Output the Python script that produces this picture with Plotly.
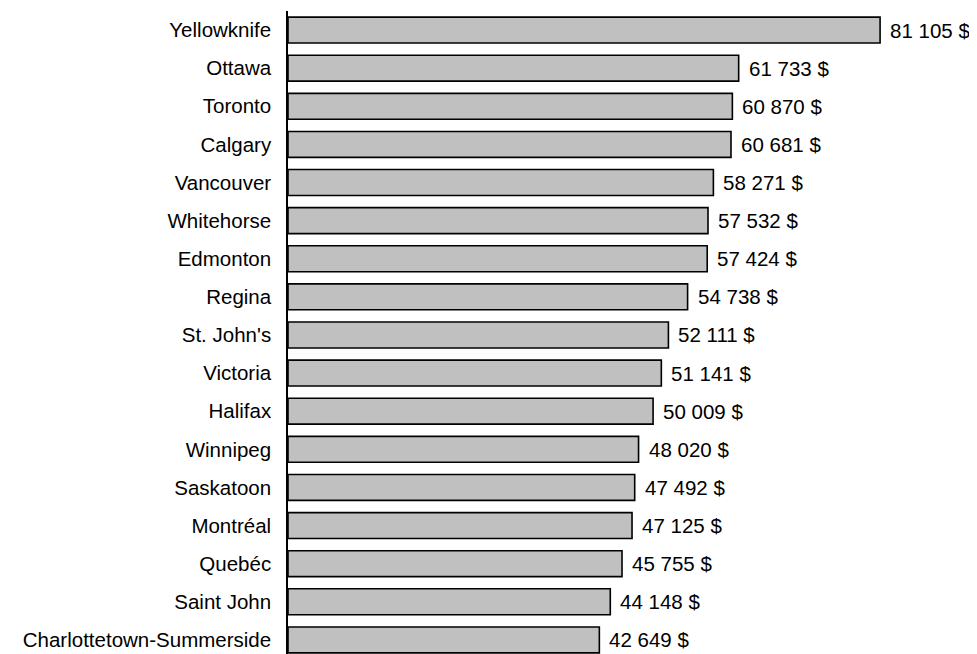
import plotly.graph_objects as go

cities = ["Yellowknife", "Ottawa", "Toronto", "Calgary", "Vancouver", "Whitehorse",
          "Edmonton", "Regina", "St. John's", "Victoria", "Halifax", "Winnipeg",
          "Saskatoon", "Montréal", "Quebéc", "Saint John", "Charlottetown-Summerside"]
values = [81105, 61733, 60870, 60681, 58271, 57532, 57424, 54738, 52111, 51141,
          50009, 48020, 47492, 47125, 45755, 44148, 42649]
labels = [f"{v:,}".replace(",", " ") + " $" for v in values]

FONT = "Liberation Sans, Arial, sans-serif"
FS = 20.5

fig = go.Figure(go.Bar(
    x=values, y=cities, orientation="h",
    marker=dict(color="#C0C0C0", line=dict(color="black", width=1.6)),
    hoverinfo="skip",
))

for v, c, t in zip(values, cities, labels):
    fig.add_annotation(x=v, y=c, text=t, showarrow=False, xanchor="left",
                       xshift=8, font=dict(family=FONT, size=FS, color="black"))

fig.update_layout(
    width=969, height=646,
    margin=dict(l=280, r=0, t=3, b=0, autoexpand=False),
    paper_bgcolor="white", plot_bgcolor="white",
    bargap=0.32,
    showlegend=False,
    font=dict(family=FONT, size=FS, color="black"),
    xaxis=dict(range=[0, 94380], visible=False, fixedrange=True),
    yaxis=dict(type="category", categoryorder="array", categoryarray=cities,
               range=[16.37, -0.5], showline=True, linecolor="black", linewidth=1.5,
               ticks="", showgrid=False, zeroline=False, ticklabelstandoff=11,
               automargin=False,
               tickfont=dict(family=FONT, size=FS, color="black")),
)

fig.write_html("out.html")
